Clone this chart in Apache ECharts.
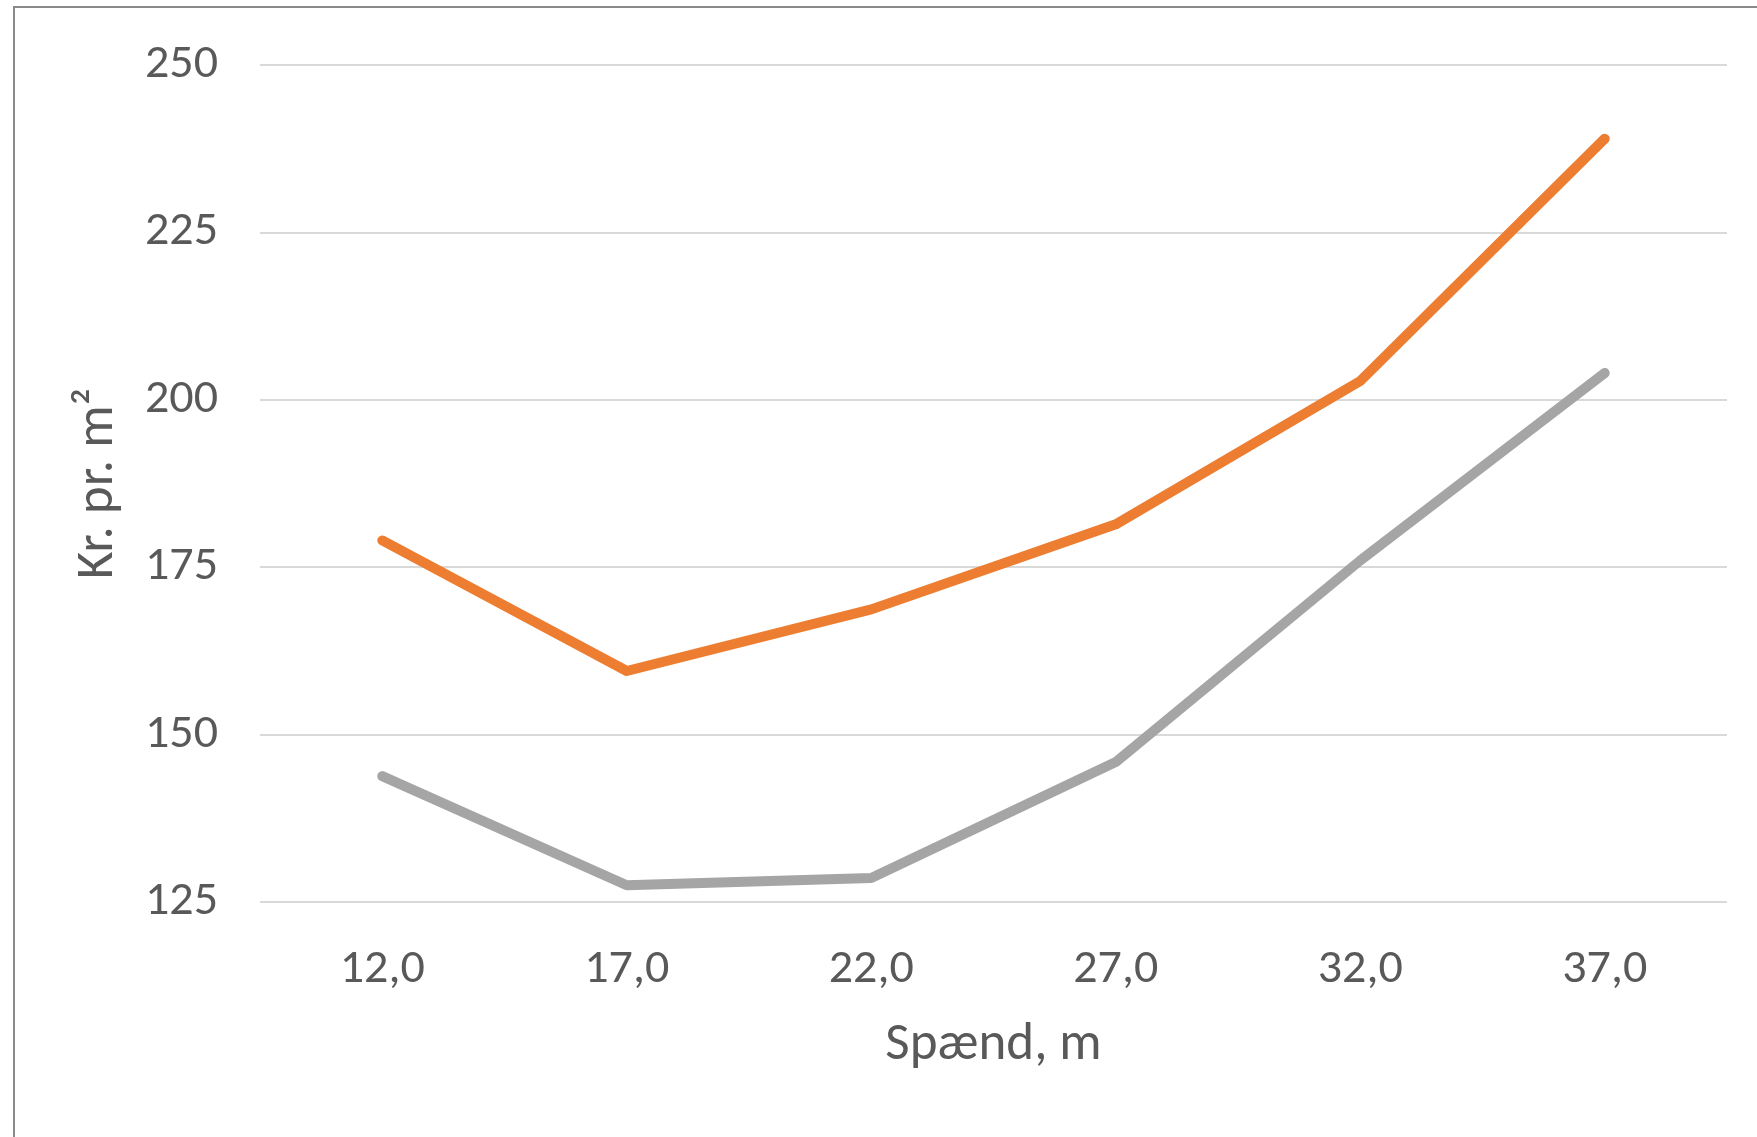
<!DOCTYPE html>
<html>
<head>
<meta charset="utf-8">
<script src="https://cdn.jsdelivr.net/npm/echarts@6/dist/echarts.min.js"></script>
<style>
  html, body { margin: 0; padding: 0; background: #ffffff; }
  #chart { width: 1757px; height: 1137px; }
</style>
</head>
<body>
<div id="chart"></div>
<script>
const categories = ['12,0', '17,0', '22,0', '27,0', '32,0', '37,0'];
const orangeSeries = [179.0, 159.5, 168.7, 181.4, 202.8, 239.0];
const graySeries = [143.8, 127.5, 128.6, 145.9, 176.0, 204.0];
const yTicks = { min: 125, max: 250, interval: 25 };
const xTitle = 'Spænd, m';
const yTitle = 'Kr. pr. m²';

const FONT = 'Carlito, Lato, "Open Sans", sans-serif';
const chart = echarts.init(document.getElementById('chart'), null, { renderer: 'canvas' });
chart.setOption({
  backgroundColor: '#ffffff',
  animation: false,
  graphic: [{
    type: 'rect',
    shape: { x: 14, y: 7, width: 1900, height: 1300 },
    style: { fill: 'none', stroke: '#8a8a8a', lineWidth: 2 },
    silent: true
  }],
  grid: { left: 260, right: 30, top: 65, bottom: 235 },
  xAxis: {
    type: 'category',
    data: categories,
    boundaryGap: true,
    axisLine: { show: false },
    axisTick: { show: false },
    axisLabel: { color: '#595959', fontFamily: FONT, fontSize: 48, lineHeight: 48, margin: 44 },
    name: xTitle,
    nameLocation: 'middle',
    nameGap: 117,
    nameTextStyle: { color: '#595959', fontFamily: FONT, fontSize: 53, lineHeight: 53 }
  },
  yAxis: {
    type: 'value',
    min: yTicks.min,
    max: yTicks.max,
    interval: yTicks.interval,
    axisLine: { show: false },
    axisTick: { show: false },
    axisLabel: { color: '#595959', fontFamily: FONT, fontSize: 48, lineHeight: 48, margin: 42, padding: [10, 0, 0, 0] },
    splitLine: { lineStyle: { color: '#d9d9d9', width: 2 } },
    name: yTitle,
    nameLocation: 'middle',
    nameGap: 135,
    nameTextStyle: { color: '#595959', fontFamily: FONT, fontSize: 53, lineHeight: 53 }
  },
  series: [
    {
      type: 'line',
      data: orangeSeries,
      symbol: 'none',
      lineStyle: { color: '#ED7D31', width: 10, join: 'round', cap: 'round' },
      itemStyle: { color: '#ED7D31' }
    },
    {
      type: 'line',
      data: graySeries,
      symbol: 'none',
      lineStyle: { color: '#A5A5A5', width: 10, join: 'round', cap: 'round' },
      itemStyle: { color: '#A5A5A5' }
    }
  ]
});
</script>
</body>
</html>
